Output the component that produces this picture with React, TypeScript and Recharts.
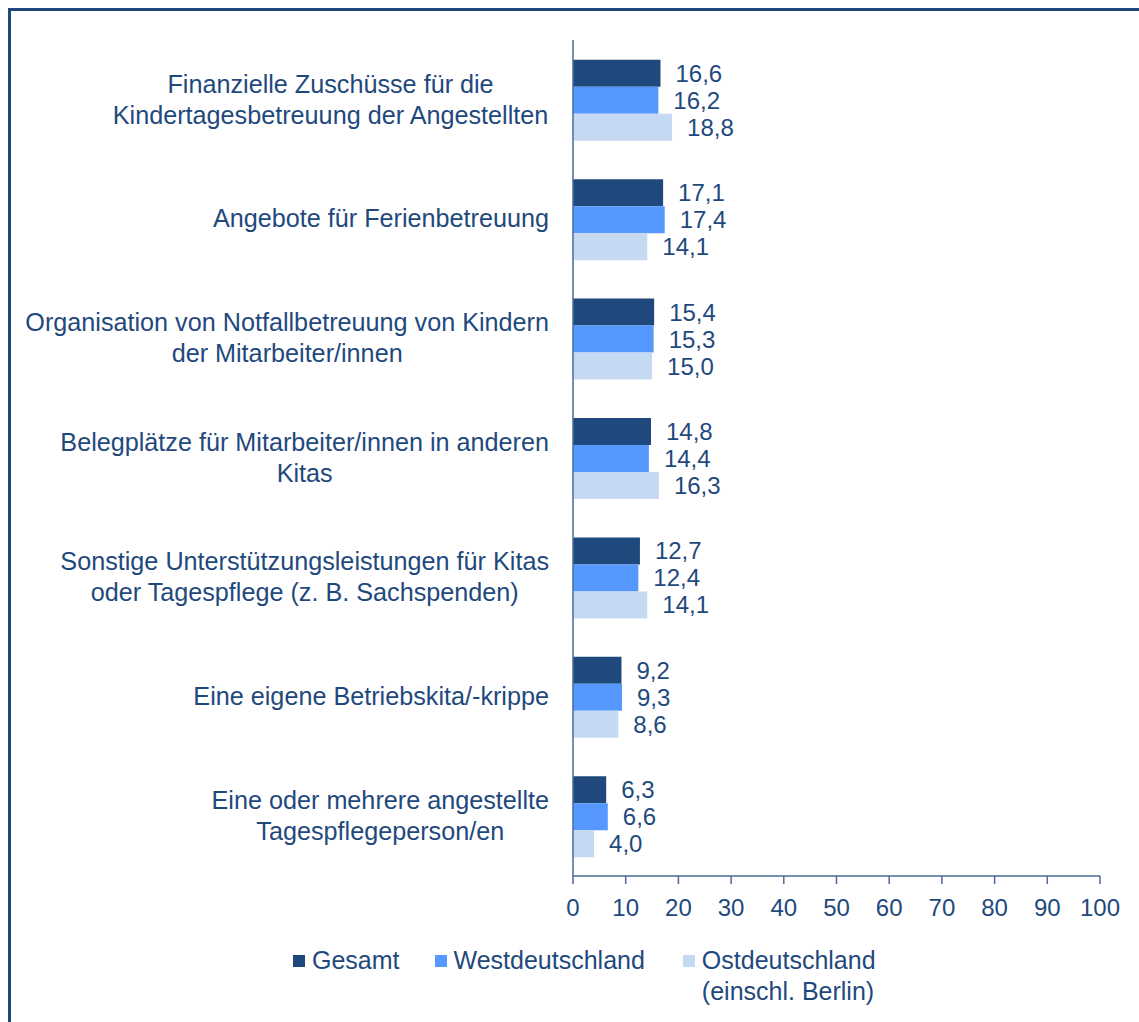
import { BarChart, Bar, XAxis, YAxis, LabelList } from "recharts";

const FONT = '"Liberation Sans", Arial, sans-serif';
const TEXT = "#1F497D";
const AXIS = "#4A6B98";

const categories = [
  "Finanzielle Zuschüsse für die\nKindertagesbetreuung der Angestellten",
  "Angebote für Ferienbetreuung",
  "Organisation von Notfallbetreuung von Kindern\nder Mitarbeiter/innen",
  "Belegplätze für Mitarbeiter/innen in anderen\nKitas",
  "Sonstige Unterstützungsleistungen für Kitas\noder Tagespflege (z. B. Sachspenden)",
  "Eine eigene Betriebskita/-krippe",
  "Eine oder mehrere angestellte\nTagespflegeperson/en",
];
const gesamt = [16.6, 17.1, 15.4, 14.8, 12.7, 9.2, 6.3];
const west = [16.2, 17.4, 15.3, 14.4, 12.4, 9.3, 6.6];
const ost = [18.8, 14.1, 15.0, 16.3, 14.1, 8.6, 4.0];
const xTicks = [0, 10, 20, 30, 40, 50, 60, 70, 80, 90, 100];

const series = [
  { key: "gesamt", name: "Gesamt", color: "#1F497D" },
  { key: "west", name: "Westdeutschland", color: "#5599FF" },
  { key: "ost", name: "Ostdeutschland\n(einschl. Berlin)", color: "#C6D9F3" },
];

const data = categories.map((name, i) => ({
  name,
  gesamt: gesamt[i],
  west: west[i],
  ost: ost[i],
}));

let ctx: CanvasRenderingContext2D | null = null;
function measure(s: string) {
  if (!ctx) ctx = document.createElement("canvas").getContext("2d");
  if (!ctx) return s.length * 12;
  ctx.font = `25.2px ${FONT}`;
  return ctx.measureText(s).width;
}

function CategoryTick(props: any) {
  const { x, y, payload } = props;
  const lines = String(payload.value).split("\n");
  const w = Math.max(...lines.map(measure));
  const cx = x - w / 2;
  return (
    <g>
      {lines.map((l, i) => (
        <text
          key={i}
          x={cx}
          y={y + (i - (lines.length - 1) / 2) * 31}
          dy="0.33em"
          textAnchor="middle"
          fill={TEXT}
          fontSize={25.2}
          fontFamily={FONT}
        >
          {l}
        </text>
      ))}
    </g>
  );
}

const fmt = (v: any) => Number(v).toFixed(1).replace(".", ",");

export default function App() {
  return (
    <div
      style={{
        position: "absolute",
        left: 0,
        top: 0,
        width: 1139,
        height: 1022,
        background: "#fff",
        overflow: "hidden",
        fontFamily: FONT,
      }}
    >
      <div
        style={{
          position: "absolute",
          left: 8,
          top: 8,
          width: 1200,
          height: 1100,
          borderLeft: `3px solid ${TEXT}`,
          borderTop: `3px solid ${TEXT}`,
        }}
      />
      <div style={{ position: "absolute", left: 0, top: 0 }}>
        <BarChart
          width={1139}
          height={1022}
          layout="vertical"
          data={data}
          margin={{ top: 40, right: 39, bottom: 96, left: 0 }}
          barCategoryGap="16.5%"
          barGap={0}
        >
          <XAxis
            type="number"
            domain={[0, 100]}
            ticks={xTicks}
            height={50}
            tickSize={8}
            tickMargin={15}
            axisLine={{ stroke: AXIS, strokeWidth: 1.5 }}
            tickLine={{ stroke: AXIS, strokeWidth: 1.5 }}
            tick={{ fill: TEXT, fontSize: 24, fontFamily: FONT }}
            interval={0}
          />
          <YAxis
            type="category"
            dataKey="name"
            width={573}
            tickLine={false}
            tickSize={6}
            tickMargin={18}
            axisLine={{ stroke: AXIS, strokeWidth: 1.5 }}
            tick={<CategoryTick />}
            interval={0}
          />
          {series.map((s) => (
            <Bar
              key={s.key}
              dataKey={s.key}
              name={s.name}
              fill={s.color}
              isAnimationActive={false}
            >
              <LabelList
                dataKey={s.key}
                position="right"
                offset={15}
                formatter={fmt}
                fill={TEXT}
                fontSize={24}
                fontFamily={FONT}
              />
            </Bar>
          ))}
        </BarChart>
      </div>
      <div
        style={{
          position: "absolute",
          left: 293,
          top: 945,
          display: "flex",
          alignItems: "flex-start",
          color: TEXT,
          fontSize: 25,
          lineHeight: "31px",
        }}
      >
        {series.map((s, i) => (
          <div
            key={s.key}
            style={{
              display: "flex",
              alignItems: "flex-start",
              marginRight: i === 0 ? 35 : 38,
            }}
          >
            <div
              style={{
                width: 12,
                height: 12,
                background: s.color,
                marginTop: 10,
                marginRight: 7,
              }}
            />
            <div style={{ whiteSpace: "pre" }}>{s.name}</div>
          </div>
        ))}
      </div>
    </div>
  );
}
